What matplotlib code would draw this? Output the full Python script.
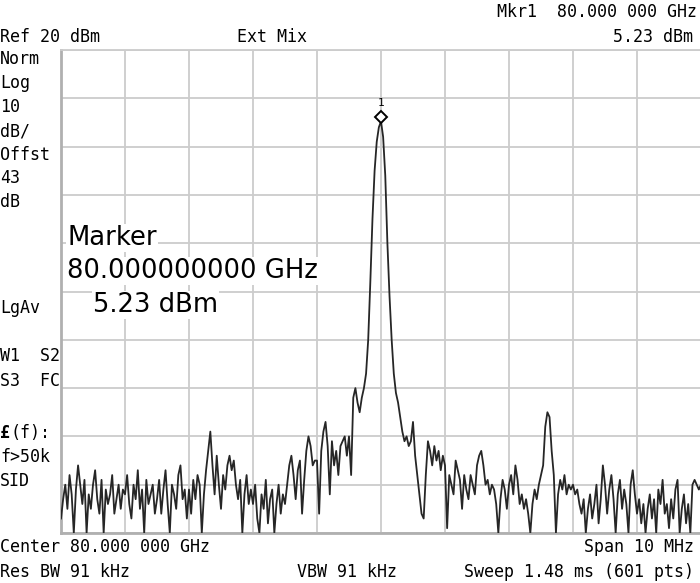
import numpy as np
import matplotlib
matplotlib.use('Agg')
import matplotlib.pyplot as plt
from matplotlib.transforms import offset_copy

# 1. TRACE DATA (dBm, 301 points across the 10 MHz span)
center_ghz = 80.0
span_mhz = 10.0
ref_level = 20
db_per_div = 10

trace_dbm = [
    -77, -73, -70, -75, -68, -72, -80, -71, -66, -70, -74, -69, -80, -72, -75,
    -70, -67, -73, -76, -69, -80, -71, -74, -72, -68, -76, -73, -70, -75, -71,
    -72, -68, -74, -77, -70, -73, -67, -75, -71, -80, -69, -74, -72, -70, -76,
    -73, -69, -76, -71, -67, -74, -80, -70, -72, -75, -68, -66, -73, -71, -77,
    -71, -76, -69, -73, -68, -70, -80, -72, -67, -63, -59, -66, -72, -64, -70,
    -75, -68, -71, -66, -64, -67, -65, -70, -73, -69, -80, -72, -68, -74, -71,
    -74, -70, -77, -80, -72, -75, -69, -78, -73, -71, -80, -74, -70, -76, -72,
    -74, -70, -66, -64, -68, -73, -67, -65, -76, -69, -63, -60, -62, -66, -65,
    -65, -76, -63, -59, -57, -62, -72, -61, -66, -63, -68, -62, -61, -60, -64,
    -60, -68, -52, -50, -53, -55, -52, -50, -47, -40, -28, -15, -5, 1, 4,
    5.23, 2, -6, -20, -31, -40, -47, -51, -53, -56, -59, -61, -60, -62, -61,
    -57, -64, -68, -72, -76, -77, -68, -61, -63, -66, -62, -65, -63, -67, -64,
    -66, -79, -68, -70, -72, -65, -67, -69, -75, -68, -71, -73, -68, -70, -72,
    -66, -64, -63, -66, -70, -69, -72, -70, -71, -74, -80, -73, -69, -71, -75,
    -70, -68, -72, -66, -69, -74, -72, -75, -73, -76, -80, -74, -71, -73, -70,
    -68, -66, -58, -55, -56, -63, -68, -80, -72, -69, -71, -68, -72, -70, -71,
    -70, -72, -71, -74, -76, -73, -80, -75, -72, -77, -74, -70, -78, -73, -66,
    -70, -76, -71, -68, -73, -80, -72, -69, -75, -71, -74, -80, -70, -67, -72,
    -76, -73, -78, -74, -80, -75, -72, -77, -73, -80, -71, -74, -69, -76, -74,
    -79, -73, -77, -71, -69, -80, -75, -72, -78, -74, -80, -70, -69, -70, -71,
    -70,
]

marker_freq = 0.0       # MHz offset from center
marker_dbm = 5.23

# frequency axis: offset from center in MHz
freq = np.linspace(-span_mhz / 2, span_mhz / 2, len(trace_dbm))
trace = np.clip(np.array(trace_dbm), ref_level - 10 * db_per_div, None)

# 2. FIGURE
W, H = 700, 583
fig = plt.figure(figsize=(W / 100, H / 100), dpi=100)
ax = fig.add_axes([61 / W, 50 / H, 640 / W, 483 / H])

grid_col = '#cccccc'
ax.set_xlim(-span_mhz / 2, span_mhz / 2)
ax.set_ylim(ref_level - 10 * db_per_div, ref_level)
ax.set_xticks(np.linspace(-span_mhz / 2, span_mhz / 2, 11))
ax.set_yticks(np.arange(ref_level - 100, ref_level + 1, db_per_div))
ax.tick_params(length=0, labelbottom=False, labelleft=False)
ax.grid(True, color=grid_col, lw=1.3)
for side in ['top', 'right']:
    ax.spines[side].set_color(grid_col)
    ax.spines[side].set_linewidth(1.3)
for side in ['left', 'bottom']:
    ax.spines[side].set_color('#b0b0b0')
    ax.spines[side].set_linewidth(2.0)

ax.plot(freq, trace, color='#262626', lw=1.3, zorder=3)

# marker diamond + label
mk_tr = offset_copy(ax.transData, fig=fig, x=0, y=4, units='dots')
ax.plot([marker_freq], [marker_dbm], marker='D', ms=6, mfc='white',
        mec='black', mew=1.4, transform=mk_tr, zorder=4, clip_on=False)
lbl_tr = offset_copy(ax.transData, fig=fig, x=0, y=18, units='dots')
ax.text(marker_freq, marker_dbm, '1', transform=lbl_tr, ha='center', va='center',
        fontsize=8, family='DejaVu Sans Mono', zorder=4)

# 3. SCREEN ANNOTATIONS
mono = 'DejaVu Sans Mono'
fs = 12


def put(x, y, s, ha='left', size=fs, family=mono, weight='normal', bbox=None):
    fig.text(x / W, 1 - y / H, s, ha=ha, va='center', fontsize=size,
             family=family, weight=weight, color='black', bbox=bbox)


put(697, 12, 'Mkr1  80.000 000 GHz', ha='right')
put(0, 37, 'Ref 20 dBm')
put(237, 37, 'Ext Mix')
put(693, 37, '5.23 dBm', ha='right')

left_labels = [('Norm', 59), ('Log', 83), ('10', 107), ('dB/', 131),
               ('Offst', 155), ('43', 178), ('dB', 202), ('LgAv', 308),
               ('W1  S2', 356), ('S3  FC', 381), ('f>50k', 457), ('SID', 481)]
for s, y in left_labels:
    put(0, y, s)
put(0, 433, '£', weight='bold')
put(10, 433, '(f):')

put(0, 547, 'Center 80.000 000 GHz')
put(694, 547, 'Span 10 MHz', ha='right')
put(0, 572, 'Res BW 91 kHz')
put(297, 572, 'VBW 91 kHz')
put(694, 572, 'Sweep 1.48 ms (601 pts)', ha='right')

box = dict(facecolor='white', edgecolor='none', pad=1.0)
put(67, 238, 'Marker', size=18.6, family='DejaVu Sans', bbox=box)
put(67, 271, '80.000000000 GHz', size=18.6, family='DejaVu Sans', bbox=box)
put(93, 305, '5.23 dBm', size=18.6, family='DejaVu Sans', bbox=box)

fig.savefig('out.png', dpi=100)
